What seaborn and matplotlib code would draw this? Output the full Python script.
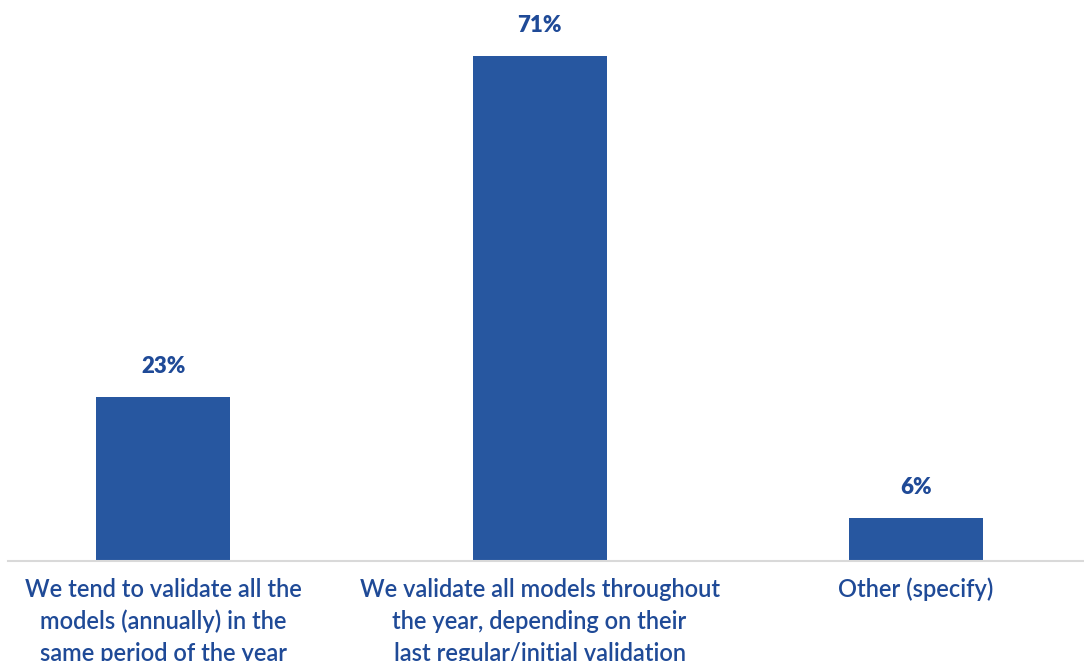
import pandas as pd
import seaborn as sns
import matplotlib.pyplot as plt

# Datos del grafico
categorias = [
    "We tend to validate all the\nmodels (annually) in the\nsame period of the year",
    "We validate all models throughout\nthe year, depending on their\nlast regular/initial validation",
    "Other (specify)",
]
porcentajes = [23, 71, 6]
etiquetas = ["23%", "71%", "6%"]

df = pd.DataFrame({"Categoria": categorias, "Porcentaje": porcentajes})

sns.set_style("white")
plt.rcParams['font.family'] = ['Lato', 'DejaVu Sans']

color_barra = "#2757A0"
color_texto = "#1F4A97"

fig = plt.figure(figsize=(10.84, 6.61), dpi=100)
ax = fig.add_axes([0.0074, 0.1513, 0.9926, 0.8396])

sns.barplot(data=df, x="Categoria", y="Porcentaje", color=color_barra,
            width=0.356, saturation=1, linewidth=0, ax=ax)

# Etiquetas de valor
for i, (v, t) in enumerate(zip(porcentajes, etiquetas)):
    ax.annotate(t, (i, v), xytext=(0, 22), textcoords="offset points",
                ha="center", va="center", fontsize=16, fontweight="heavy",
                color=color_texto)

ax.set_xlim(-0.412, 2.446)
ax.set_ylim(0, 78)
ax.set_xlabel("")
ax.set_ylabel("")
ax.set_yticks([])
ax.tick_params(axis="x", length=0, pad=12, labelsize=17, labelcolor=color_texto)
for lbl in ax.get_xticklabels():
    lbl.set_linespacing(1.47)
    lbl.set_fontweight("semibold")

for s in ["top", "right", "left"]:
    ax.spines[s].set_visible(False)
ax.spines["bottom"].set_color("#D9D9D9")
ax.spines["bottom"].set_linewidth(1.5)

fig.savefig("out.png", dpi=100)
